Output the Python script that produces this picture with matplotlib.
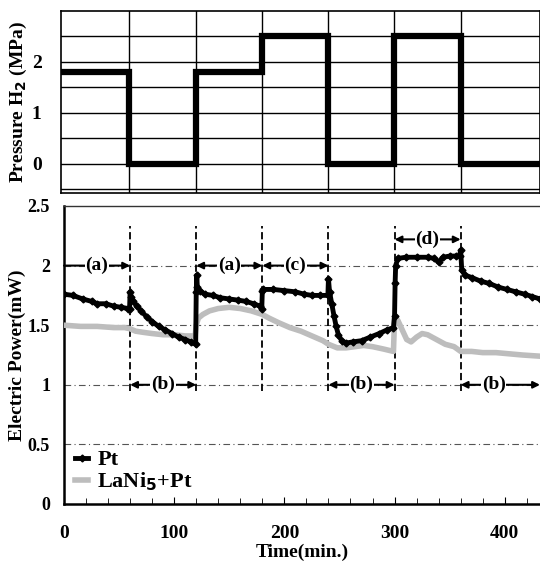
import numpy as np
import matplotlib.pyplot as plt

# pressure steps (MPa), each held over one 60 min interval
p_edges = [0, 60, 120, 180, 240, 300, 360, 432]
p_vals = [1.8, 0, 1.8, 2.5, 0, 2.5, 0]

# Pt electrode power (mW)
pt_t = [0, 8, 17, 25, 30, 38, 45, 52, 58, 59.5,
        60, 61, 63, 66, 70, 75, 80, 86, 92, 98, 104, 110, 115, 119.5,
        120, 120.5, 121, 123, 128, 135, 142, 150, 158, 165, 172, 178, 179.5,
        180, 181, 190, 200, 210, 218, 225, 232, 239.5,
        240, 241, 243, 245, 247, 249, 252, 256, 262, 270, 278, 286, 293, 299,
        300, 300.5, 301, 303, 310, 320, 330, 336, 340, 344, 350, 356, 359,
        360, 361, 364, 370, 378, 386, 394, 402, 410, 418, 425, 432]
pt_p = [1.76, 1.75, 1.72, 1.70, 1.68, 1.68, 1.66, 1.65, 1.64, 1.64,
        1.78, 1.74, 1.70, 1.66, 1.62, 1.57, 1.53, 1.49, 1.46, 1.43, 1.40, 1.38, 1.36, 1.34,
        1.78, 1.92, 1.82, 1.79, 1.76, 1.75, 1.73, 1.72, 1.71, 1.70, 1.68, 1.66, 1.64,
        1.79, 1.80, 1.80, 1.79, 1.78, 1.76, 1.75, 1.75, 1.75,
        1.89, 1.78, 1.68, 1.58, 1.49, 1.42, 1.37, 1.35, 1.36, 1.37, 1.40, 1.43, 1.46, 1.48,
        1.58, 1.85, 2.00, 2.06, 2.07, 2.07, 2.07, 2.06, 2.03, 2.07, 2.08, 2.08, 2.08,
        2.13, 1.96, 1.92, 1.90, 1.87, 1.85, 1.82, 1.80, 1.78, 1.76, 1.74, 1.72]

# LaNi5+Pt electrode power (mW)
la_t = [0, 15, 30, 45, 55, 60, 65, 72, 80, 90, 100, 110, 119,
        120, 122, 126, 132, 140, 150, 160, 170, 180,
        186, 195, 205, 215, 225, 235, 240, 248, 256, 264, 272, 280, 290, 299,
        300, 303, 307, 311, 315, 320, 325, 330, 338, 346, 354, 360,
        370, 380, 392, 404, 416, 432]
la_p = [1.50, 1.49, 1.49, 1.48, 1.48, 1.47, 1.45, 1.44, 1.43, 1.42, 1.42, 1.41, 1.41,
        1.50, 1.56, 1.59, 1.62, 1.64, 1.65, 1.64, 1.62, 1.59,
        1.56, 1.52, 1.48, 1.45, 1.41, 1.37, 1.34, 1.31, 1.31, 1.32, 1.33, 1.32, 1.30, 1.28,
        1.56, 1.54, 1.46, 1.38, 1.36, 1.40, 1.43, 1.42, 1.38, 1.34, 1.32, 1.28,
        1.28, 1.27, 1.27, 1.26, 1.25, 1.24]

# interval annotations: (start, end, y, label, both ends arrowed)
spans = [(0, 60, 2.0, '(a)', False), (120, 180, 2.0, '(a)', True),
         (180, 240, 2.0, '(c)', True), (300, 360, 2.22, '(d)', True),
         (60, 120, 1.0, '(b)', True), (240, 300, 1.0, '(b)', True),
         (360, 432, 1.0, '(b)', True)]

plt.rcParams['font.family'] = 'Liberation Serif'
plt.rcParams['font.weight'] = 'bold'
plt.rcParams['font.size'] = 12

fig = plt.figure(figsize=(5.4, 5.65), dpi=100)

# top panel: hydrogen pressure
ax1 = fig.add_axes([61 / 540, 1 - 193 / 565, 1 - 61 / 540, 182 / 565])
ax1.step(p_edges, p_vals + [p_vals[-1]], where='post', color='black', lw=4.5,
         solid_joinstyle='miter', zorder=3)
ax1.set_xlim(-2, 432)
ax1.set_ylim(-0.57, 3.0)
ax1.set_yticks([0, 1, 2])
ax1.set_yticks(np.arange(-0.5, 3.0, 0.5), minor=True)
ax1.set_xticks(range(60, 361, 60))
ax1.set_xticklabels([])
ax1.grid(True, which='both', color='black', lw=1)
ax1.tick_params(which='both', length=0, pad=14, labelsize=14)
ax1.set_ylabel('Pressure H$_\\mathbf{2}$ (MPa)', fontsize=14, fontweight='bold')
ax1.yaxis.set_label_coords(-0.067, 0.5)
for s in ax1.spines.values():
    s.set_linewidth(1.2)

# bottom panel: electric power
ax2 = fig.add_axes([64 / 540, 1 - 504 / 565, 1 - 64 / 540, 298 / 565])
ax2.plot(la_t, la_p, color='#bdbdbd', lw=4, label='LaNi$_\\mathbf{5}$+Pt', zorder=3)
ax2.plot(pt_t, pt_p, color='black', lw=3.5, marker='D', ms=3.5,
         label='Pt', zorder=4)
for y in [0.5, 1.0, 1.5, 2.0]:
    ax2.axhline(y, color='#555555', lw=0.8, ls=(0, (6, 3, 1, 3)), zorder=1)
for x in range(60, 361, 60):
    ax2.plot([x, x], [0.95, 2.33], color='black', lw=1.3, ls=(0, (4, 2)), zorder=2)
for x0, x1, y, lab, both in spans:
    ax2.annotate('', xy=(x1, y), xytext=(x0, y),
                 arrowprops=dict(arrowstyle='<|-|>' if both else '-|>',
                                 color='black', lw=1.5, mutation_scale=10,
                                 shrinkA=0, shrinkB=0), zorder=5)
    ax2.text((x0 + min(x1, 420)) / 2 if x1 > 420 else (x0 + x1) / 2, y, lab,
             ha='center', va='center', fontsize=14, fontweight='bold',
             bbox=dict(facecolor='white', edgecolor='none', pad=0.5), zorder=6)
ax2.set_xlim(0, 432)
ax2.set_ylim(0, 2.5)
ax2.set_yticks([0, 0.5, 1, 1.5, 2, 2.5])
ax2.set_yticklabels(['0', '0.5', '1', '1.5', '2', '2.5'])
ax2.set_xticks([0, 100, 200, 300, 400])
ax2.set_xticks(range(0, 432, 20), minor=True)
ax2.tick_params(which='both', direction='in', labelsize=14)
ax2.tick_params(axis='y', labelsize=13)
ax2.tick_params(axis='x', which='major', length=5, pad=15)
ax2.tick_params(axis='x', which='minor', length=4)
ax2.tick_params(axis='y', length=0, pad=10)
ax2.spines['right'].set_visible(False)
ax2.spines['top'].set_color('#333333')
ax2.spines['top'].set_linewidth(1.0)
ax2.spines['left'].set_linewidth(1.8)
ax2.spines['bottom'].set_linewidth(1.8)
ax2.set_xlabel('Time(min.)', fontsize=14, fontweight='bold', labelpad=1)
ax2.set_ylabel('Electric Power(mW)', fontsize=14, fontweight='bold')
ax2.yaxis.set_label_coords(-0.08, 0.5)

h, l = ax2.get_legend_handles_labels()
leg = ax2.legend(h[::-1], l[::-1], loc='lower left', frameon=False,
                 handlelength=0.6, handletextpad=0.4, labelspacing=0.0,
                 borderaxespad=0.1, prop={'size': 16, 'weight': 'bold'})

fig.savefig('out.png', dpi=100)
